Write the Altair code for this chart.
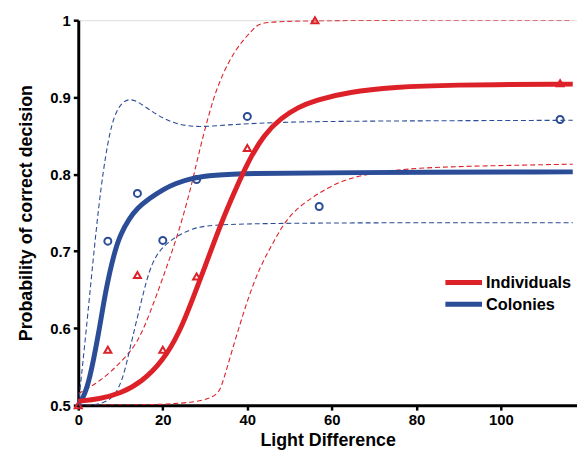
import altair as alt
import pandas as pd

RED = "#dc2128"
BLUE = "#2b4c96"

# Observed points
col_x = [7, 14, 20, 28, 40, 57, 114]
col_y = [0.713, 0.775, 0.714, 0.793, 0.875, 0.758, 0.871]
ind_x = [0, 7, 14, 20, 28, 40, 56, 114]
ind_y = [0.5, 0.572, 0.669, 0.572, 0.667, 0.834, 1.0, 0.918]

# Fitted curves
ind_fit_x = [0, 5, 10, 15, 20, 24, 27, 30, 33, 36, 40, 44, 48, 52, 56, 64, 75, 87, 117]
ind_fit_y = [0.505, 0.508, 0.515, 0.53, 0.557, 0.595, 0.637, 0.68, 0.725, 0.765, 0.815, 0.852, 0.873, 0.887, 0.896, 0.907, 0.913, 0.916, 0.917]
col_fit_x = [0, 1, 2.6, 4.9, 6.5, 8.5, 10, 12, 14, 16.7, 20, 23, 27, 32, 40, 60, 117]
col_fit_y = [0.503, 0.507, 0.53, 0.595, 0.65, 0.698, 0.722, 0.742, 0.756, 0.768, 0.78, 0.788, 0.795, 0.799, 0.801, 0.802, 0.803]

# Confidence bands
ind_up_x = [0, 5, 10, 14, 17, 20, 23.7, 26.8, 28.4, 31, 33, 37, 42.5, 44, 117]
ind_up_y = [0.515, 0.53, 0.555, 0.58, 0.62, 0.665, 0.723, 0.785, 0.825, 0.88, 0.916, 0.963, 0.995, 1.0, 1.0]
ind_lo_x = [0, 32, 34, 36, 40, 43, 46.5, 50, 56.6, 63.6, 75, 87, 117]
ind_lo_y = [0.5, 0.5, 0.525, 0.564, 0.637, 0.68, 0.715, 0.749, 0.775, 0.796, 0.806, 0.810, 0.813]
col_up_x = [0, 1, 2.6, 4.9, 7, 8.9, 12, 16, 20, 24, 28.4, 35, 45, 60, 117]
col_up_y = [0.5, 0.55, 0.637, 0.766, 0.845, 0.885, 0.902, 0.887, 0.872, 0.864, 0.861, 0.864, 0.867, 0.869, 0.870]
col_lo_x = [0, 9.2, 12, 15, 17.4, 21, 26.8, 34.7, 117]
col_lo_y = [0.5, 0.5, 0.569, 0.637, 0.689, 0.712, 0.731, 0.737, 0.737]

legend_labels = ["Individuals", "Colonies"]

pts_col = pd.DataFrame({"x": col_x, "y": col_y, "series": "Colonies"})
pts_ind = pd.DataFrame({"x": ind_x, "y": ind_y, "series": "Individuals"})
fits = pd.concat([
    pd.DataFrame({"x": col_fit_x, "y": col_fit_y, "series": "Colonies", "order": 0}),
    pd.DataFrame({"x": ind_fit_x, "y": ind_fit_y, "series": "Individuals", "order": 1}),
])
bands = pd.concat([
    pd.DataFrame({"x": ind_up_x, "y": ind_up_y, "series": "Individuals", "band": "iu"}),
    pd.DataFrame({"x": ind_lo_x, "y": ind_lo_y, "series": "Individuals", "band": "il"}),
    pd.DataFrame({"x": col_up_x, "y": col_up_y, "series": "Colonies", "band": "cu"}),
    pd.DataFrame({"x": col_lo_x, "y": col_lo_y, "series": "Colonies", "band": "cl"}),
])

color_scale = alt.Scale(domain=legend_labels, range=[RED, BLUE])
xs = alt.Scale(domain=[0, 118], nice=False)
ys = alt.Scale(domain=[0.5, 1.0], nice=False)

x_axis = alt.Axis(title="Light Difference", values=[0, 20, 40, 60, 80, 100], grid=False,
                  domainWidth=3, domainColor="black", tickColor="black", tickWidth=2.5, tickSize=5,
                  labelFont="Liberation Sans", labelFontWeight="bold", labelFontSize=15, labelColor="black",
                  labelPadding=3, titleFont="Liberation Sans", titleFontWeight="bold", titleFontSize=18,
                  titleColor="black", titlePadding=4, labelFlush=False)
y_axis = alt.Axis(title="Probability of correct decision", values=[0.5, 0.6, 0.7, 0.8, 0.9, 1.0], grid=False,
                  labelExpr="datum.value == 1 ? '1' : format(datum.value, '.1f')",
                  domainWidth=3, domainColor="black", tickColor="black", tickWidth=2.5, tickSize=5,
                  labelFont="Liberation Sans", labelFontWeight="bold", labelFontSize=15, labelColor="black",
                  labelPadding=3, titleFont="Liberation Sans", titleFontWeight="bold", titleFontSize=18,
                  titleColor="black", titlePadding=14, labelFlush=False)

color_enc = alt.Color("series:N", scale=color_scale, legend=None)

points_col = alt.Chart(pts_col).mark_point(shape="circle", filled=False, strokeWidth=2, size=50, opacity=1).encode(
    x=alt.X("x:Q", scale=xs, axis=x_axis),
    y=alt.Y("y:Q", scale=ys, axis=y_axis),
    color=color_enc,
)
points_ind = alt.Chart(pts_ind).mark_point(shape="triangle-up", filled=False, strokeWidth=2, size=50, opacity=1).encode(
    x=alt.X("x:Q", scale=xs),
    y=alt.Y("y:Q", scale=ys),
    color=color_enc,
)

band_lines = alt.Chart(bands).mark_line(strokeWidth=1.1, strokeDash=[5, 3], interpolate="basis", clip=True).encode(
    x=alt.X("x:Q", scale=xs),
    y=alt.Y("y:Q", scale=ys),
    color=color_enc,
    detail="band:N",
)

fit_lines = alt.Chart(fits).mark_line(strokeWidth=5, interpolate="basis", strokeCap="butt").encode(
    x=alt.X("x:Q", scale=xs),
    y=alt.Y("y:Q", scale=ys),
    color=color_enc,
    order="order:Q",
)

# Manual legend (line swatch + bold label)
legend_layers = []
for i, lab in enumerate(legend_labels):
    ypix = 265 + 22 * i
    d = pd.DataFrame({"series": [lab]})
    legend_layers.append(
        alt.Chart(d).mark_rule(strokeWidth=5).encode(
            x=alt.value(371), x2=alt.value(408), y=alt.value(ypix), color=color_enc)
    )
    legend_layers.append(
        alt.Chart(d).mark_text(align="left", baseline="middle", font="Liberation Sans",
                               fontWeight="bold", fontSize=16.5, color="black").encode(
            x=alt.value(412), y=alt.value(ypix + 1), text="series:N")
    )

chart = alt.layer(points_col, points_ind, band_lines, fit_lines, *legend_layers).properties(
    width=504, height=389,
    autosize=alt.AutoSizeParams(type="none"),
    padding={"left": 71, "top": 10, "right": 0, "bottom": 44},
).configure_view(stroke=None).configure(background="white")

chart.save("out.html", embed_options={"renderer": "svg", "actions": False})
